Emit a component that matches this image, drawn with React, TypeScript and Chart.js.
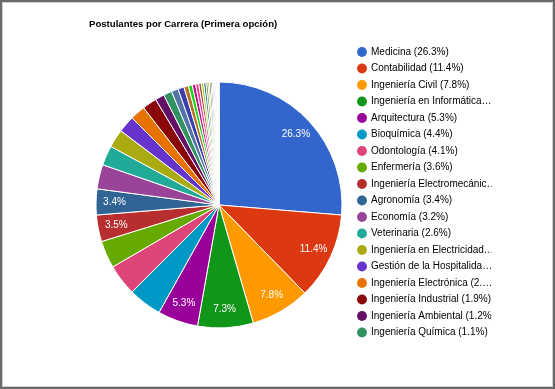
import React, { useEffect, useRef } from "react";
import { Chart, registerables } from "chart.js";

Chart.register(...registerables);

const TITLE = "Postulantes por Carrera (Primera opción)";

const mainLabels = [
  "Medicina",
  "Contabilidad",
  "Ingeniería Civil",
  "Ingeniería en Informática",
  "Arquitectura",
  "Bioquímica",
  "Odontología",
  "Enfermería",
  "Ingeniería Electromecánica",
  "Agronomía",
  "Economía",
  "Veterinaria",
  "Ingeniería en Electricidad",
  "Gestión de la Hospitalidad",
  "Ingeniería Electrónica",
  "Ingeniería Industrial",
  "Ingeniería Ambiental",
  "Ingeniería Química",
];
const mainValues = [26.3, 11.4, 7.8, 7.3, 5.3, 4.4, 4.1, 3.6, 3.5, 3.4, 3.2, 2.6, 2.4, 2.2, 2.0, 1.9, 1.2, 1.1];

const otherValues = [0.9, 0.8, 0.6, 0.5, 0.45, 0.4, 0.35, 0.3, 0.3, 0.25, 0.2, 0.2, 0.18, 0.15, 0.15, 0.12, 0.1, 0.1, 0.08, 0.06, 0.05, 0.03, 0.03];
const otherLabels = otherValues.map((_, i) => `Otra carrera ${i + 1}`);

const palette = [
  "#3366cc", "#dc3912", "#ff9900", "#109618", "#990099", "#0099c6", "#dd4477", "#66aa00",
  "#b82e2e", "#316395", "#994499", "#22aa99", "#aaaa11", "#6633cc", "#e67300", "#8b0707",
  "#651067", "#329262", "#5574a6", "#3b3eac", "#b77322", "#16d620", "#b91383", "#f4359e",
  "#9c5935", "#a9c413", "#2a778d", "#668d1c", "#bea413", "#0c5922", "#743411",
  "#85a3e0", "#ea8871", "#ffc266", "#70c074", "#c266c2", "#66c2dd", "#eb8fad", "#a3cc66",
  "#d48282", "#8396b5",
];

const labelledSlices = [0, 1, 2, 3, 4, 8, 9];
const LEGEND_COUNT = 18;

const FONT_FAMILY = "'Liberation Sans', Arial, sans-serif";

export default function App() {
  const ref = useRef<HTMLCanvasElement>(null);

  useEffect(() => {
    if (!ref.current) return;
    const labels = [...mainLabels, ...otherLabels];
    const values = [...mainValues, ...otherValues];
    const total = values.reduce((a, b) => a + b, 0);
    const colors = labels.map((_, i) => palette[i % palette.length]);

    const titlePlugin = {
      id: "gTitle",
      afterDraw(chart: any) {
        const ctx = chart.ctx;
        ctx.save();
        ctx.font = `bold 9.6px ${FONT_FAMILY}`;
        ctx.fillStyle = "#000000";
        ctx.textAlign = "left";
        ctx.textBaseline = "middle";
        ctx.fillText(TITLE, 89, 24.5);
        ctx.restore();
      },
    };

    const sliceLabels = {
      id: "sliceLabels",
      afterDatasetsDraw(chart: any) {
        const ctx = chart.ctx;
        const meta = chart.getDatasetMeta(0);
        ctx.save();
        ctx.font = `10px ${FONT_FAMILY}`;
        ctx.fillStyle = "#ffffff";
        ctx.textAlign = "center";
        ctx.textBaseline = "middle";
        labelledSlices.forEach((i) => {
          const arc = meta.data[i] as any;
          const mid = (arc.startAngle + arc.endAngle) / 2;
          const r = arc.outerRadius * 0.85;
          const pct = ((values[i] / total) * 100).toFixed(1) + "%";
          ctx.fillText(pct, arc.x + Math.cos(mid) * r, arc.y + Math.sin(mid) * r);
        });
        ctx.restore();
      },
    };

    const chart = new Chart(ref.current, {
      type: "pie",
      data: {
        labels,
        datasets: [
          {
            data: values,
            backgroundColor: colors,
            borderColor: "#ffffff",
            borderWidth: 1,
          },
        ],
      },
      options: {
        responsive: false,
        animation: false,
        radius: 123,
        layout: { padding: { left: 86.5, right: 63.5, top: 40.5, bottom: 19.5 } },
        plugins: {
          title: { display: false },
          tooltip: { enabled: false },
          legend: {
            display: true,
            position: "right",
            align: "start",
            maxWidth: 140,
            labels: {
              usePointStyle: true,
              boxWidth: 8,
              boxHeight: 7,
              padding: 6.5,
              color: "#222222",
              font: { family: FONT_FAMILY, size: 10 },
              generateLabels(ch: any) {
                const ctx = ch.ctx;
                ctx.save();
                ctx.font = `10px ${FONT_FAMILY}`;
                const maxW = 126.5;
                const items = ch.data.labels.slice(0, LEGEND_COUNT).map((lab: string, i: number) => {
                  const v = ch.data.datasets[0].data[i];
                  let text = `${lab} (${((v / total) * 100).toFixed(1)}%)`;
                  if (ctx.measureText(text).width > maxW) {
                    let s = text;
                    while (s.length > 1 && ctx.measureText(s + "…").width > maxW) s = s.slice(0, -1);
                    text = s.replace(/[\s(]+$/, "") + "…";
                  }
                  return {
                    text,
                    fillStyle: colors[i],
                    strokeStyle: colors[i],
                    lineWidth: 0,
                    hidden: false,
                    index: i,
                    pointStyle: "circle",
                  };
                });
                ctx.restore();
                return items;
              },
            },
          },
        },
      } as any,
      plugins: [titlePlugin, sliceLabels],
    });
    return () => chart.destroy();
  }, []);

  return (
    <div style={{ position: "fixed", left: 0, top: 0, width: 555, height: 389, background: "#ffffff" }}>
      <canvas ref={ref} width={555} height={389} style={{ position: "absolute", left: 0, top: 0 }} />
      <div
        style={{
          position: "absolute",
          left: 0,
          top: 0,
          width: 555,
          height: 389,
          boxSizing: "border-box",
          border: "2px solid #6a6a6a",
          boxShadow: "inset 0 0 0 1px #d0d0d0",
          pointerEvents: "none",
        }}
      />
    </div>
  );
}
